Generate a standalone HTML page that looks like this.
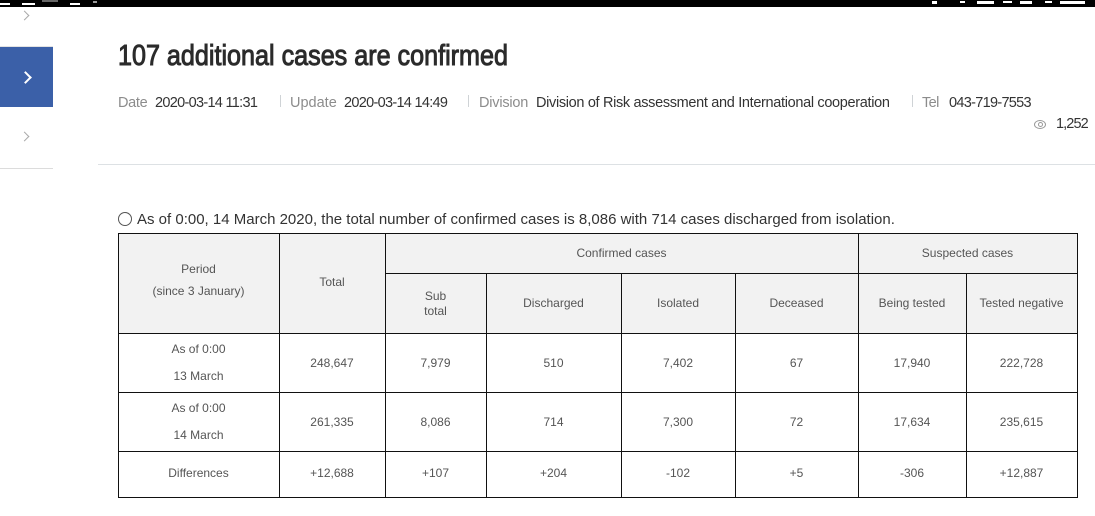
<!DOCTYPE html>
<html>
<head>
<meta charset="utf-8">
<style>
html,body{margin:0;padding:0;}
body{width:1095px;height:516px;position:relative;overflow:hidden;background:#fff;font-family:"Liberation Sans",Arial,sans-serif;}
.a{position:absolute;}
.sb{position:absolute;background:#fff;height:2px;top:3px;}
.m{position:absolute;top:93px;line-height:20px;font-size:14.5px;white-space:nowrap;}
.g{color:#8c8c8c;}
.d{color:#333;}
.sep{position:absolute;top:95px;width:1px;height:12px;background:#cfd3d6;}
.h{position:absolute;background:#111;height:1px;}
.v{position:absolute;background:#111;width:1px;}
.t{position:absolute;line-height:20px;font-size:12px;color:#555;text-align:center;white-space:nowrap;}
.chev{position:absolute;width:6px;height:6px;border-right:1px solid #aaa;border-top:1px solid #aaa;transform:rotate(45deg);}
</style>
</head>
<body>
<!-- status bar -->
<div class="a" style="left:0;top:0;width:1095px;height:7px;background:#000;"></div>
<div class="sb" style="left:0;width:10px;"></div>
<div class="sb" style="left:22px;width:13px;"></div>
<div class="sb" style="left:42px;width:16px;top:0;background:#666;"></div>
<div class="sb" style="left:70px;width:10px;"></div>
<div class="sb" style="left:93px;width:4px;top:1px;background:#999;"></div>
<div class="sb" style="left:932px;width:5px;top:1px;height:3px;"></div>
<div class="sb" style="left:960px;width:5px;top:1px;height:2px;"></div>
<div class="sb" style="left:977px;width:17px;top:1px;height:3px;"></div>
<div class="sb" style="left:1003px;width:9px;top:1px;height:2px;"></div>
<div class="sb" style="left:1020px;width:12px;top:1px;height:3px;"></div>
<div class="sb" style="left:1045px;width:7px;top:1px;height:2px;"></div>
<div class="sb" style="left:1060px;width:25px;top:1px;height:3px;"></div>

<!-- sidebar -->
<div class="chev" style="left:21px;top:12px;"></div>
<div class="a" style="left:0;top:46px;width:53px;height:1px;background:#e3e3e3;"></div>
<div class="a" style="left:0;top:47px;width:53px;height:60px;background:#3b60a8;"></div>
<div class="chev" style="left:21px;top:73px;width:7px;height:7px;border-color:#fff;border-width:2px;"></div>
<div class="chev" style="left:21px;top:133px;"></div>
<div class="a" style="left:0;top:168px;width:53px;height:1px;background:#dcdcdc;"></div>

<!-- title -->
<div class="a" style="left:118px;top:39px;font-size:29px;line-height:34px;color:#2b2b2b;white-space:nowrap;transform:scaleX(0.867);transform-origin:0 0;-webkit-text-stroke:1px #2b2b2b;">107 additional cases are confirmed</div>

<!-- meta -->
<div class="m g" style="left:118px;letter-spacing:-0.3px;">Date</div>
<div class="m d" style="left:155px;letter-spacing:-0.7px;">2020-03-14 11:31</div>
<div class="sep" style="left:280px;"></div>
<div class="m g" style="left:290px;">Update</div>
<div class="m d" style="left:344px;letter-spacing:-0.7px;">2020-03-14 14:49</div>
<div class="sep" style="left:468px;"></div>
<div class="m g" style="left:479px;letter-spacing:-0.2px;">Division</div>
<div class="m d" style="left:536px;letter-spacing:-0.33px;">Division of Risk assessment and International cooperation</div>
<div class="sep" style="left:912px;"></div>
<div class="m g" style="left:922px;letter-spacing:-0.6px;">Tel</div>
<div class="m d" style="left:949px;letter-spacing:-0.7px;">043-719-7553</div>
<!-- eye -->
<div class="a" style="left:1034px;top:120px;width:10px;height:7px;border:1px solid #999;border-radius:50%;"></div>
<div class="a" style="left:1038px;top:122px;width:3px;height:3px;border:1px solid #999;border-radius:50%;"></div>
<div class="m d" style="left:1056px;top:114px;letter-spacing:-0.9px;">1,252</div>

<div class="a" style="left:98px;top:164px;width:997px;height:1px;background:#dde1e4;"></div>

<!-- caption -->
<div class="a" style="left:118px;top:212px;width:12px;height:12px;border:1px solid #555;border-radius:50%;"></div>
<div class="a" style="left:137px;top:210px;font-size:15px;line-height:20px;color:#333;white-space:nowrap;">As of 0:00, 14 March 2020, the total number of confirmed cases is 8,086 with 714 cases discharged from isolation.</div>

<!-- table -->
<div class="a" style="left:118px;top:233px;width:959px;height:100px;background:#f2f2f2;"></div>
<div class="h" style="left:118px;top:233px;width:960px;"></div>
<div class="h" style="left:385px;top:273px;width:693px;"></div>
<div class="h" style="left:118px;top:333px;width:960px;"></div>
<div class="h" style="left:118px;top:392px;width:960px;"></div>
<div class="h" style="left:118px;top:451px;width:960px;"></div>
<div class="h" style="left:118px;top:497px;width:960px;"></div>
<div class="v" style="left:118px;top:233px;height:265px;"></div>
<div class="v" style="left:279px;top:233px;height:265px;"></div>
<div class="v" style="left:385px;top:233px;height:265px;"></div>
<div class="v" style="left:486px;top:273px;height:225px;"></div>
<div class="v" style="left:621px;top:273px;height:225px;"></div>
<div class="v" style="left:735px;top:273px;height:225px;"></div>
<div class="v" style="left:858px;top:233px;height:265px;"></div>
<div class="v" style="left:966px;top:273px;height:225px;"></div>
<div class="v" style="left:1077px;top:233px;height:265px;"></div>

<!-- header text -->
<div class="t" style="left:118px;width:161px;top:259px;">Period</div>
<div class="t" style="left:118px;width:161px;top:281px;">(since 3 January)</div>
<div class="t" style="left:279px;width:106px;top:272px;">Total</div>
<div class="t" style="left:385px;width:473px;top:243px;">Confirmed cases</div>
<div class="t" style="left:858px;width:219px;top:243px;">Suspected cases</div>
<div class="t" style="left:385px;width:101px;top:286px;">Sub</div>
<div class="t" style="left:385px;width:101px;top:301px;">total</div>
<div class="t" style="left:486px;width:135px;top:293px;">Discharged</div>
<div class="t" style="left:621px;width:114px;top:293px;">Isolated</div>
<div class="t" style="left:735px;width:123px;top:293px;">Deceased</div>
<div class="t" style="left:858px;width:108px;top:293px;">Being tested</div>
<div class="t" style="left:966px;width:111px;top:293px;">Tested negative</div>

<!-- row 1 -->
<div class="t" style="left:118px;width:161px;top:339px;">As of 0:00</div>
<div class="t" style="left:118px;width:161px;top:366px;">13 March</div>
<div class="t" style="left:279px;width:106px;top:353px;">248,647</div>
<div class="t" style="left:385px;width:101px;top:353px;">7,979</div>
<div class="t" style="left:486px;width:135px;top:353px;">510</div>
<div class="t" style="left:621px;width:114px;top:353px;">7,402</div>
<div class="t" style="left:735px;width:123px;top:353px;">67</div>
<div class="t" style="left:858px;width:108px;top:353px;">17,940</div>
<div class="t" style="left:966px;width:111px;top:353px;">222,728</div>

<!-- row 2 -->
<div class="t" style="left:118px;width:161px;top:398px;">As of 0:00</div>
<div class="t" style="left:118px;width:161px;top:425px;">14 March</div>
<div class="t" style="left:279px;width:106px;top:412px;">261,335</div>
<div class="t" style="left:385px;width:101px;top:412px;">8,086</div>
<div class="t" style="left:486px;width:135px;top:412px;">714</div>
<div class="t" style="left:621px;width:114px;top:412px;">7,300</div>
<div class="t" style="left:735px;width:123px;top:412px;">72</div>
<div class="t" style="left:858px;width:108px;top:412px;">17,634</div>
<div class="t" style="left:966px;width:111px;top:412px;">235,615</div>

<!-- row 3 -->
<div class="t" style="left:118px;width:161px;top:463px;">Differences</div>
<div class="t" style="left:279px;width:106px;top:463px;">+12,688</div>
<div class="t" style="left:385px;width:101px;top:463px;">+107</div>
<div class="t" style="left:486px;width:135px;top:463px;">+204</div>
<div class="t" style="left:621px;width:114px;top:463px;">-102</div>
<div class="t" style="left:735px;width:123px;top:463px;">+5</div>
<div class="t" style="left:858px;width:108px;top:463px;">-306</div>
<div class="t" style="left:966px;width:111px;top:463px;">+12,887</div>
</body>
</html>
